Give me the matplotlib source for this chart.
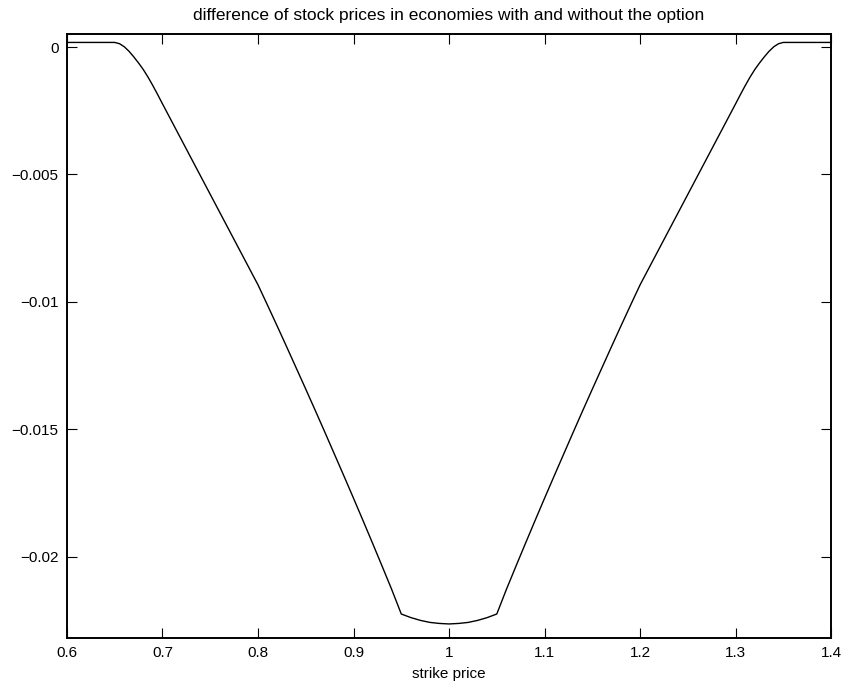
import matplotlib
matplotlib.use("Agg")
import matplotlib.pyplot as plt

plt.rcParams['font.family'] = ['Liberation Sans', 'DejaVu Sans']

# strike prices (finer steps where the curve leaves the flat part)
strike = [0.60, 0.61, 0.62, 0.63, 0.64, 0.65, 0.655, 0.66, 0.665, 0.67,
          0.675, 0.68, 0.685, 0.69, 0.695, 0.70, 0.71, 0.72, 0.73, 0.74,
          0.75, 0.76, 0.77, 0.78, 0.79, 0.80, 0.81, 0.82, 0.83, 0.84,
          0.85, 0.86, 0.87, 0.88, 0.89, 0.90, 0.91, 0.92, 0.93, 0.94,
          0.95, 0.96, 0.97, 0.98, 0.99, 1.00,
          1.01, 1.02, 1.03, 1.04, 1.05, 1.06, 1.07, 1.08, 1.09, 1.10,
          1.11, 1.12, 1.13, 1.14, 1.15, 1.16, 1.17, 1.18, 1.19, 1.20,
          1.21, 1.22, 1.23, 1.24, 1.25, 1.26, 1.27, 1.28, 1.29, 1.30,
          1.305, 1.31, 1.315, 1.32, 1.325, 1.33, 1.335, 1.34, 1.345, 1.35,
          1.36, 1.37, 1.38, 1.39, 1.40]

# stock price with option minus stock price without option
diff_left = [0.00018, 0.00018, 0.00018, 0.00018, 0.00018, 0.00018, 0.00013, 0.00001, -0.00017, -0.00039,
             -0.00063, -0.00089, -0.00119, -0.00152, -0.00187, -0.00223, -0.00294, -0.00365, -0.00436, -0.00507,
             -0.00578, -0.00649, -0.00720, -0.00791, -0.00862, -0.00933, -0.01013, -0.01094, -0.01176, -0.01259,
             -0.01342, -0.01426, -0.01511, -0.01597, -0.01683, -0.01770, -0.01858, -0.01947, -0.02037, -0.02128,
             -0.02224, -0.02238, -0.02249, -0.02257, -0.02261, -0.02263]
diff_right = [-0.02261, -0.02257, -0.02249, -0.02238, -0.02224, -0.02128, -0.02037, -0.01947, -0.01858, -0.01770,
              -0.01683, -0.01597, -0.01511, -0.01426, -0.01342, -0.01259, -0.01176, -0.01094, -0.01013, -0.00933,
              -0.00862, -0.00791, -0.00720, -0.00649, -0.00578, -0.00507, -0.00436, -0.00365, -0.00294, -0.00223,
              -0.00187, -0.00152, -0.00119, -0.00089, -0.00063, -0.00039, -0.00017, 0.00001, 0.00013, 0.00018,
              0.00018, 0.00018, 0.00018, 0.00018, 0.00018]
price_diff = diff_left + diff_right

xticks = [0.6, 0.7, 0.8, 0.9, 1.0, 1.1, 1.2, 1.3, 1.4]
xtick_labels = ['0.6', '0.7', '0.8', '0.9', '1', '1.1', '1.2', '1.3', '1.4']
yticks = [0, -0.005, -0.01, -0.015, -0.02]
ytick_labels = ['0', '\u22120.005', '\u22120.01', '\u22120.015', '\u22120.02']

fig = plt.figure(figsize=(8.49, 6.90), dpi=100)
ax = fig.add_axes([0.0789, 0.0754, 0.9, 0.8753])

ax.plot(strike, price_diff, color='black', linewidth=1.0)

ax.set_xlim(0.6, 1.4)
ax.set_ylim(-0.02318, 0.00051)
ax.set_xticks(xticks)
ax.set_xticklabels(xtick_labels)
ax.set_yticks(yticks)
ax.set_yticklabels(ytick_labels)

ax.tick_params(direction='in', length=7, width=0.8, top=True, right=True,
               labelsize=11, pad=6)
for s in ax.spines.values():
    s.set_linewidth(1.4)

ax.set_xlabel('strike price', fontsize=11, labelpad=5)
ax.set_title('difference of stock prices in economies with and without the option',
             fontsize=12.5, pad=10)

fig.savefig('out.png', dpi=100)
